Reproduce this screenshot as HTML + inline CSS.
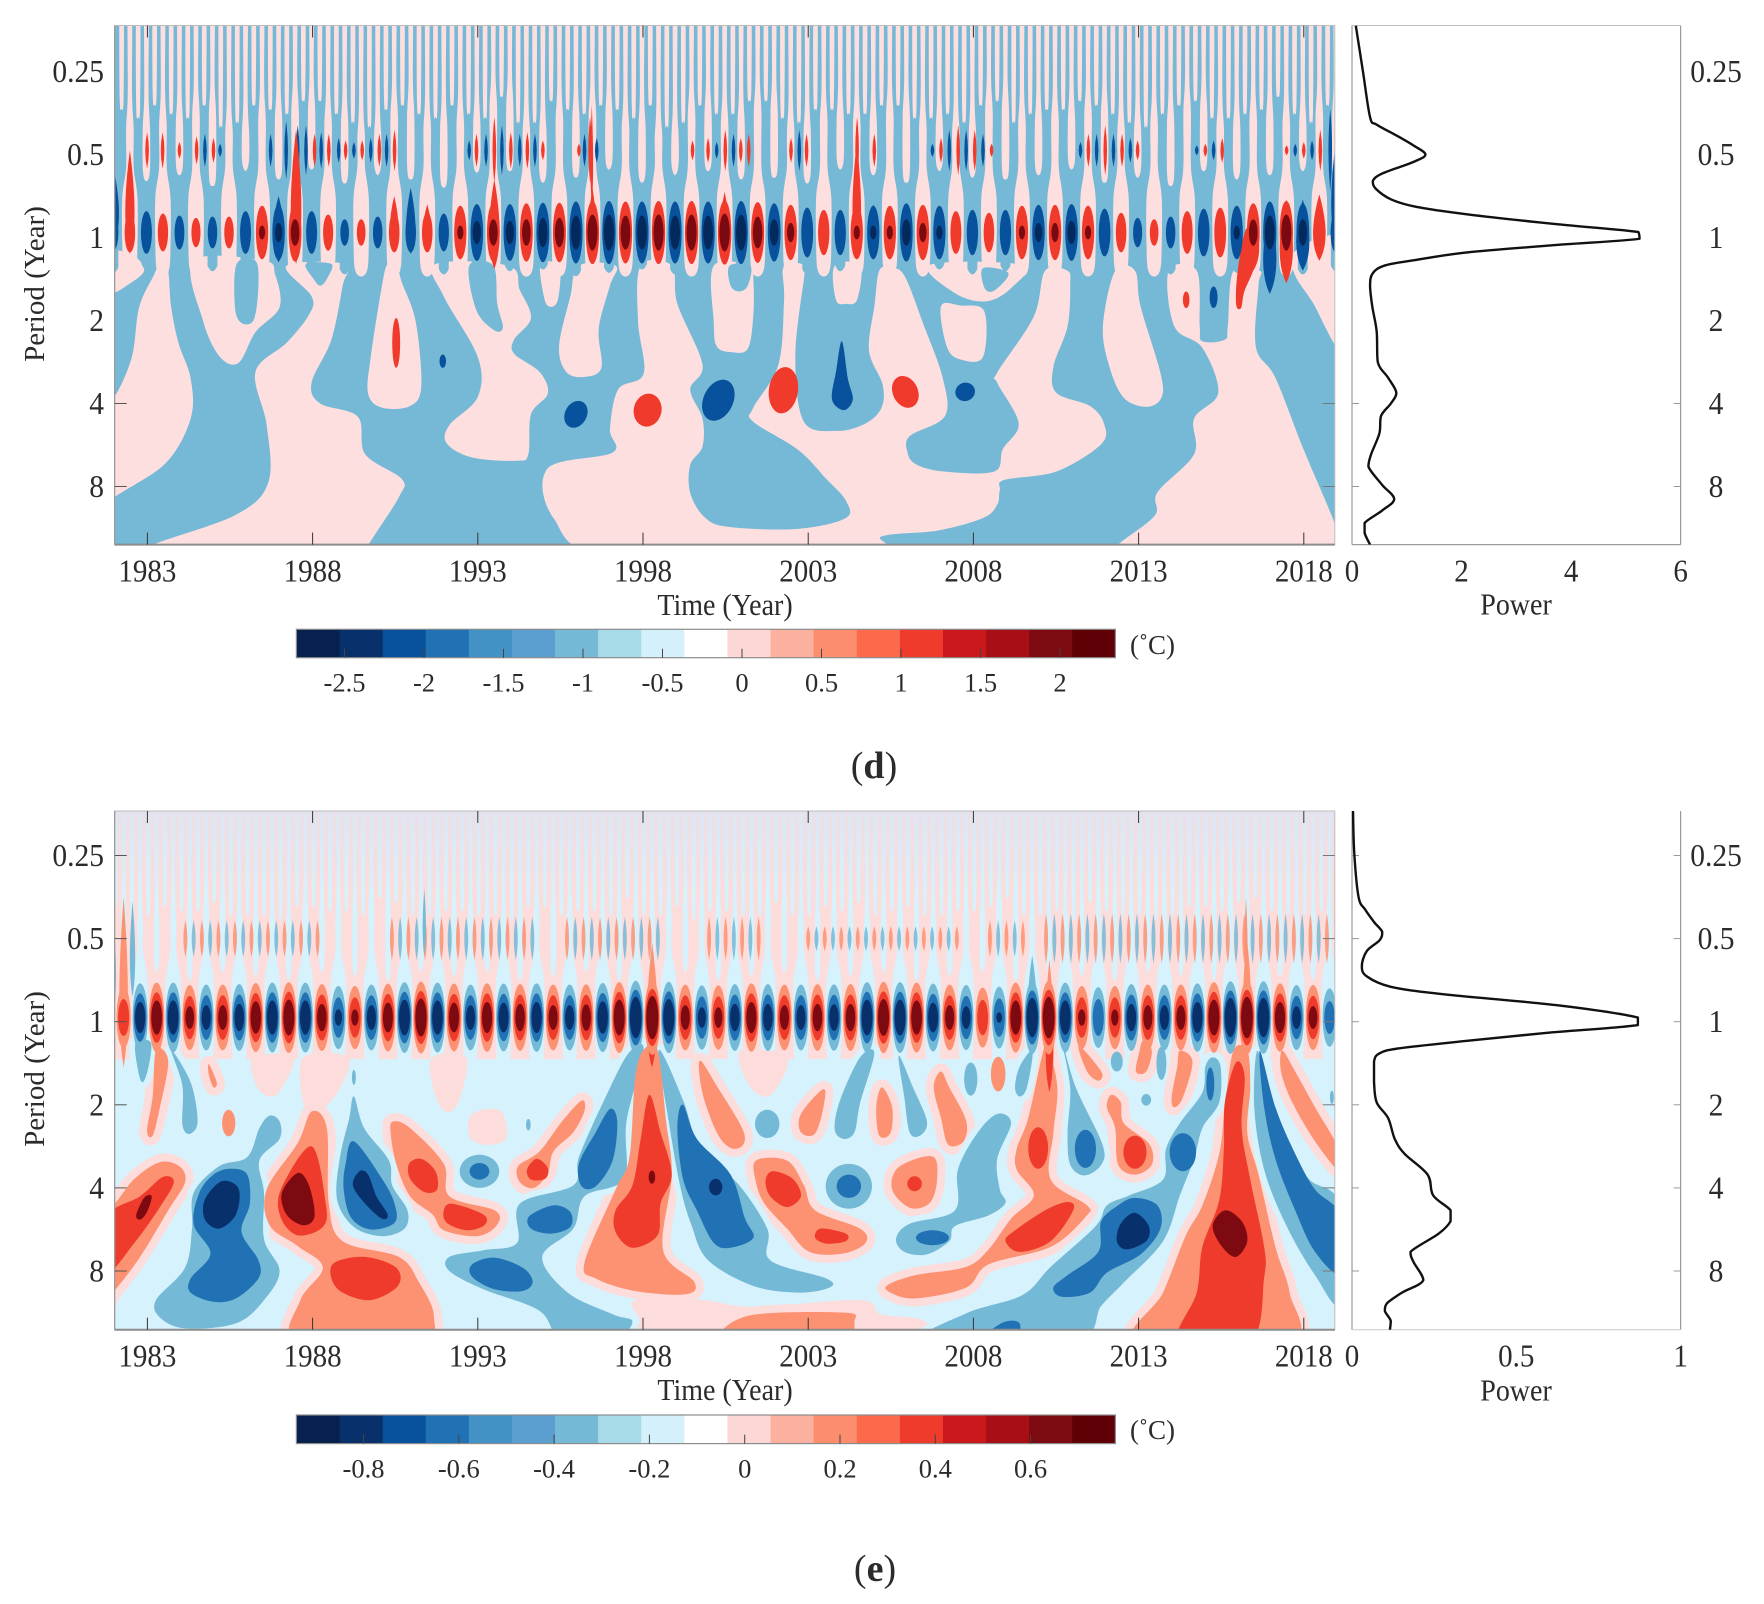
<!DOCTYPE html>
<html lang="en">
<head>
<meta charset="utf-8">
<title>Wavelet power spectra (d) and (e)</title>
<style>
html,body{margin:0;padding:0;background:#fff;}
svg{display:block;}
text{font-family:"Liberation Serif",serif;fill:#2b2b2b;}
</style>
</head>
<body>
<svg id="fig" xmlns="http://www.w3.org/2000/svg" width="1764" height="1604" viewBox="0 0 1764 1604">
  <defs>
    <clipPath id="clipD"><rect x="114.7" y="25.5" width="1220.1" height="519.1"/></clipPath>
    <clipPath id="clipE"><rect x="114.7" y="811" width="1220.1" height="518.7"/></clipPath>
    <clipPath id="clipSideD"><rect x="1352" y="25.5" width="328.6" height="519.1"/></clipPath>
    <clipPath id="clipSideE"><rect x="1352" y="811" width="328.6" height="518.7"/></clipPath>
    <linearGradient id="hazeFade" x1="0" y1="0" x2="0" y2="1">
      <stop offset="0" stop-color="#e2e2ee" stop-opacity="0.75"/>
      <stop offset="1" stop-color="#e2e2ee" stop-opacity="0"/>
    </linearGradient>
  </defs>
  <g id="panelD"></g>
  <g id="panelE"></g>
  <text transform="translate(44,284) rotate(-90)" font-size="29" text-anchor="middle">Period (Year)</text>
  <text transform="translate(44,1069) rotate(-90)" font-size="29" text-anchor="middle">Period (Year)</text>
  <text transform="translate(725,615) scale(1,1.08)" font-size="28" text-anchor="middle">Time (Year)</text>
  <text transform="translate(725,1400) scale(1,1.08)" font-size="28" text-anchor="middle">Time (Year)</text>
  <text transform="translate(1516,614.5) scale(1,1.08)" font-size="28" text-anchor="middle">Power</text>
  <text transform="translate(1516,1400.5) scale(1,1.08)" font-size="28" text-anchor="middle">Power</text>
  <text x="1130" y="654" font-size="27">(˚C)</text>
  <text x="1130" y="1439" font-size="27">(˚C)</text>
  <text x="874" y="778" font-size="38" text-anchor="middle">(<tspan font-weight="bold">d</tspan>)</text>
  <text x="875" y="1581" font-size="38" text-anchor="middle">(<tspan font-weight="bold">e</tspan>)</text>
</svg>
<script>
/* ---------- shared ticks and colour scale ---------- */
const yearTicks = [1983,1988,1993,1998,2003,2008,2013,2018];
const periodTicks = [0.25,0.5,1,2,4,8];
const visibleTicksD = [4,8];
const colorSteps = ['#07214f','#08306b','#08519c','#2171b5','#4292c6','#5b9fd0','#74b9d6','#a8dbe8','#d4f1fb','#ffffff','#fdd6d6','#fcb0a0','#fc8d6d','#fb6a4a','#ef3b2c','#cb181d','#a50f15','#7d0a10','#5f0006'];
const colorTicksD = [-2.5,-2,-1.5,-1,-0.5,0,0.5,1,1.5,2];
const colorTicksE = [-0.8,-0.6,-0.4,-0.2,0,0.2,0.4,0.6];
const powerTicksD = [0,2,4,6];
const powerTicksE = [0,0.5,1];

/* ---------- panel d: annual band amplitude (degC), every half year from 1981.97 ---------- */
const annualD = [-1.4,1.5,-1.6,1.45,-1.35,1.25,-1.3,1.3,-1.6,2.1,-2.2,2.4,-1.6,1.4,-1.2,1.2,-1.3,1.5,-1.5,1.5,-1.45,2.1,-2.3,2.4,-2.3,2.4,-2.5,2.5,-2.7,2.8,-2.8,2.7,-2.7,2.8,-2.7,2.8,-2.7,2.9,-2.8,2.6,-2.4,2.2,-1.9,1.7,-1.7,2.1,-2.1,2.1,-2.4,2.2,-2.1,1.6,-1.7,1.5,-1.7,2.1,-2.2,2.2,-2.3,2.1,-1.8,1.5,-1.25,1.2,-1.3,1.6,-1.8,1.9,-2.1,2.4,-2.7,2.8,-2.4,1.7,-1.5];
/* panel d: finger tips (log2 period) per year 1982..2018 */
const rootTopD = [-0.68,-0.75,-0.62,-0.8,-0.7,-0.82,-0.65,-0.75,-0.7,-0.6,-0.78,-0.8,-0.66,-0.72,-0.82,-0.66,-0.75,-0.8,-0.7,-0.72,-0.65,-0.82,-0.75,-0.66,-0.8,-0.72,-0.7,-0.75,-0.82,-0.66,-0.72,-0.62,-0.8,-0.7,-0.75,-0.8,-0.72];
const forkTopD = [-1.45,-1.5,-1.6,-1.4,-1.55,-1.65,-1.5,-1.35,-1.6,-1.45,-1.5,-1.7,-1.4,-1.55,-1.6,-1.45,-1.35,-1.6,-1.5,-1.65,-1.4,-1.55,-1.5,-1.6,-1.45,-1.4,-1.65,-1.5,-1.55,-1.6,-1.4,-1.5,-1.65,-1.45,-1.55,-1.5,-1.6];
const blueTipD = [0.42,0.38,0.44,0.4,0.46,0.38,0.42,0.44,0.4,0.38,0.44,0.42,0.4,0.38,0.46,0.42,0.38,0.44,0.4,0.42,0.38,0.44,0.4,0.46,0.42,0.38,0.44,0.4,0.42,0.38,0.46,0.4,0.44,0.38,0.42,0.4,0.44,0.4];
/* panel d: semi-annual streaks: year, signed half-height in octaves */
const semiYearsD = [1982.99,1983.46,1983.97,1984.49,1984.74,1985,1985.2,1986.73,1987.2,1987.55,1987.8,1988.06,1988.26,1988.49,1988.79,1989,1989.25,1989.5,1989.76,1990.02,1990.24,1990.48,1992.74,1992.96,1993.25,1993.5,1993.73,1994,1994.27,1994.5,1994.73,1994.97,1996.06,1996.23,1996.4,1996.6,1999.5,1999.97,2000.23,2000.49,2000.74,2000.96,2001.2,2002.48,2002.73,2002.95,2004.48,2005,2006.76,2007.02,2007.27,2007.54,2007.78,2008.04,2008.29,2008.55,2011.24,2011.48,2011.73,2011.99,2012.24,2012.5,2012.75,2012.97,2014.76,2015.02,2015.27,2015.53,2017.48,2017.74,2018,2018.25,2018.5,2018.8];
const semiHeightsD = [0.22,0.22,0.1,0.17,-0.2,0.15,-0.08,-0.2,-0.35,-0.3,-0.3,0.2,-0.22,0.2,-0.15,0.12,-0.1,0.12,-0.15,0.2,-0.2,0.25,-0.12,0.2,-0.2,0.4,-0.3,0.22,-0.2,0.22,-0.2,0.12,0.08,-0.2,0.4,-0.15,0.12,0.15,-0.1,0.25,-0.2,0.15,0.2,0.15,-0.25,0.2,0.4,0.2,-0.08,0.15,-0.25,0.3,-0.25,0.25,-0.2,0.08,-0.1,0.2,-0.2,0.3,-0.2,0.2,-0.15,0.12,-0.06,0.08,-0.12,0.15,0.06,-0.08,0.1,-0.12,0.25,-0.5];
/* panel d: tails stretched out of the annual band: year, top, bottom, half width, level */
const tailsD = [
 [1982.47,-1.05,0.2,0.14,1],[1981.97,-0.85,0.1,0.17,-1],[1987.5,-1.3,0.32,0.16,1],[1986.97,-0.5,0.3,0.18,-1],
 [1990.47,-0.5,0.15,0.13,1],[1990.97,-0.6,0.2,0.14,-1],[1991.47,-0.4,0.15,0.13,1],[1993.5,-0.7,0.38,0.16,1],
 [1996.47,-0.6,0.3,0.12,1],[1996.45,-1.6,-0.4,0.04,1],[2000.47,-0.55,0.3,0.15,1],[2004.47,-1.15,0.25,0.13,1],
 [2004.97,-0.4,0.2,0.14,-1],[2016.97,-0.34,0.68,0.2,-1],[2017.47,-0.46,0.55,0.2,1],[2017.97,-0.46,0.4,0.2,-1],
 [2018.47,-0.52,0.28,0.19,1],[2018.97,-1.15,0.1,0.14,-1],[2016.47,-0.28,0.4,0.18,1]
];
/* panel d: pink regions traced as [year, log2 period] */
const pinkRegionsD = [
 [[1982,1.92],[1982.53,1.44],[1982.75,0.84],[1983.2,0.45],[1983.46,0.24],[1983.63,0.41],[1983.72,0.84],[1983.94,1.27],[1984.31,1.7],[1984.31,2.18],[1983.55,2.72],[1982,3.13],[1981.7,3.3],[1981.7,1.9]],
 [[1981.7,0.2],[1982.5,0.2],[1982.9,0.4],[1982.3,0.6],[1982,0.67],[1981.7,0.75]],
 [[1984.4,0.28],[1984.69,1.01],[1985.2,1.44],[1985.76,1.51],[1986.27,1.14],[1987,0.84],[1986.87,0.45],[1986.53,0.28]],
 [[1987.21,0.34],[1987.97,0.71],[1987.89,0.93],[1987.21,1.27],[1986.27,1.62],[1986.61,2.26],[1986.66,2.95],[1985.68,3.34],[1983.12,3.71],[1982.6,3.9],[1989.5,3.9],[1989.68,3.71],[1990.61,3.13],[1990.7,2.91],[1989.59,2.61],[1989.37,2.16],[1988.23,2],[1987.97,1.75],[1988.57,1.23],[1988.91,0.58],[1989,0.32]],
 [[1990.27,0.32],[1990.1,0.58],[1989.76,1.44],[1989.68,1.88],[1990.1,2.05],[1990.95,2.03],[1991.29,1.79],[1991.12,1.01],[1990.7,0.54],[1990.53,0.32]],
 [[1991.72,0.32],[1991.97,0.71],[1993,1.44],[1993,1.92],[1992.14,2.26],[1992.06,2.48],[1992.83,2.65],[1994.19,2.69],[1994.53,2.61],[1994.61,2.13],[1995.12,1.88],[1994.87,1.62],[1994.1,1.4],[1994.1,1.23],[1994.61,0.97],[1994.27,0.63],[1993.93,0.34]],
 [[1994.9,0.32],[1995,0.71],[1995.15,0.83],[1995.4,0.78],[1995.5,0.49],[1995.42,0.32]],
 [[1996.06,0.34],[1995.8,0.71],[1995.46,1.31],[1995.68,1.62],[1996.23,1.68],[1996.74,1.57],[1996.66,1.1],[1997,0.58],[1997.17,0.34]],
 [[1997.93,0.34],[1997.85,1.01],[1998.02,1.64],[1997.25,1.83],[1997,2.31],[1997.08,2.59],[1995.12,2.78],[1995.29,3.38],[1997.1,3.85],[2004.83,3.8],[2005.23,3.6],[2006.93,3.53],[2008.29,3.38],[2008.72,3.22],[2008.8,3.04],[2008.94,2.92],[2010.51,2.82],[2011.87,2.49],[2011.95,2.24],[2011.53,2.03],[2010.51,1.87],[2010.42,1.56],[2010.85,1.07],[2010.93,0.58],[2010.85,0.4],[2010.17,0.4],[2009.83,0.95],[2008.72,1.63],[2008.72,1.75],[2009.37,2.24],[2008.89,2.55],[2008.63,2.82],[2007.1,2.82],[2006.25,2.73],[2006,2.58],[2006.08,2.39],[2007.14,2.15],[2007.07,1.69],[2006.51,1.07],[2005.91,0.46],[2005.49,0.37],[2005.15,0.4],[2005.01,0.81],[2004.84,1.36],[2005.25,1.77],[2005.22,2.05],[2004.74,2.24],[2003.89,2.33],[2002.87,2.22],[2002.61,1.44],[2002.87,0.5],[2002.95,0.34],[2002.27,0.34],[2002.27,0.75],[2002.1,1.53],[2001.34,2.05],[2001.34,2.22],[2002.7,2.56],[2003.55,2.91],[2004.14,3.17],[2004.14,3.38],[2002.7,3.51],[2000.65,3.49],[1999.89,3.38],[1999.43,3.08],[1999.43,2.74],[1999.8,2.52],[1999.8,2.18],[1999.43,1.83],[1999.8,1.53],[1999.04,0.8],[1998.87,0.34]],
 [[2000.14,0.34],[2000.14,1.01],[2000.23,1.31],[2000.65,1.38],[2001.17,1.34],[2001.34,0.93],[2001.34,0.5],[2001.25,0.34]],
 [[2003.8,0.34],[2003.84,0.75],[2004.14,0.8],[2004.48,0.75],[2004.57,0.34]],
 [[2007.02,0.83],[2007.61,0.82],[2008.33,0.89],[2008.29,1.44],[2007.61,1.47],[2007.2,1.32]],
 [[2006.68,0.33],[2007.44,0.67],[2008.38,0.77],[2009.14,0.61],[2009.48,0.33]],
 [[2012.29,0.4],[2011.92,1.07],[2012.12,1.56],[2012.55,1.93],[2013.23,2.04],[2013.69,1.93],[2013.66,1.63],[2013.06,0.83],[2012.89,0.4]],
 [[2013.91,0.4],[2014.08,1.07],[2014.93,1.33],[2015.41,1.87],[2014.68,2.18],[2014.68,2.61],[2013.57,3.07],[2013.49,3.35],[2012.38,3.7],[2012.21,3.85],[2019.2,3.85],[2018.93,3.44],[2017.99,2.55],[2017.14,1.69],[2016.55,1.32],[2016.63,0.58],[2016.67,0.4],[2015.87,0.4],[2015.7,1.07],[2015.61,1.23],[2014.93,1.25],[2014.85,1.07],[2014.76,0.4]],
 [[2017.65,0.21],[2017.74,0.46],[2018.25,0.77],[2019.2,1.36],[2019.2,0.09],[2018.34,0.03]]
];
/* panel d: blue fingers lying on top of the pink regions */
const blueFingersD = [
 [[1985.7,0.32],[1985.65,0.84],[1985.85,1.03],[1986.22,0.99],[1986.36,0.58],[1986.27,0.28]],
 [[1987.8,0.32],[1988.03,0.5],[1988.23,0.58],[1988.43,0.5],[1988.57,0.32]],
 [[1992.74,0.34],[1992.96,0.88],[1993.51,1.12],[1993.76,1.08],[1993.59,0.8],[1993.47,0.34]],
 [[2000.62,0.34],[2000.65,0.58],[2000.91,0.65],[2001.17,0.58],[2001.25,0.34]],
 [[2008.29,0.37],[2008.34,0.61],[2008.63,0.64],[2009.06,0.43]]
];
const redShapesD = [[[2016.55,0],[2016.5,0.35],[2016.2,0.65],[2016.1,0.85],[2015.95,0.8],[2016,0.4],[2016.25,-0.1]]];
const blueDropD = [[[2004.02,1.25],[2004.2,1.7],[2004.35,1.95],[2004.08,2.08],[2003.72,1.95],[2003.85,1.6]]];
/* panel d: isolated spots: level, year, log2 period, half width, half height, tilt degrees */
const ovalsD = [
 [1,1990.53,1.27,0.12,0.3,0],[-1,1991.94,1.49,0.1,0.08,0],[-1,1995.97,2.13,0.33,0.17,28],[1,1998.14,2.08,0.42,0.2,12],
 [-1,2000.28,1.96,0.45,0.26,25],[1,2002.25,1.84,0.44,0.28,8],[1,2005.94,1.86,0.38,0.2,-25],[-1,2007.75,1.86,0.3,0.11,-20],
 [1,2014.44,0.75,0.1,0.1,0],[-1,2015.27,0.72,0.12,0.13,0]
];
/* panel d: global power spectrum */
const spectrumOctD = [-2.55,-2,-1.45,-1.36,-1.23,-1.11,-1,-0.91,-0.77,-0.68,-0.59,-0.46,-0.37,-0.28,-0.16,-0.065,0.015,0.09,0.18,0.27,0.335,0.43,0.58,0.83,1.13,1.5,1.69,1.87,2,2.15,2.36,2.61,2.76,2.98,3.15,3.29,3.44,3.56,3.7];
const spectrumPowerD = [0.07,0.2,0.33,0.45,0.81,1.12,1.34,1.12,0.55,0.38,0.43,0.71,1.17,2.1,3.74,5.23,5.25,3.74,2.1,1.17,0.61,0.38,0.33,0.37,0.45,0.47,0.66,0.81,0.71,0.53,0.5,0.35,0.3,0.55,0.77,0.55,0.23,0.23,0.33];

/* ---------- panel e ---------- */
const annualE = [-0.5,0.6,-0.8,0.85,-0.85,0.7,-0.72,0.72,-0.75,0.82,-0.85,0.88,-0.85,0.75,-0.65,0.65,-0.72,0.78,-0.88,0.92,-0.85,0.78,-0.72,0.8,-0.78,0.75,-0.8,0.72,-0.72,0.74,-0.82,0.88,-1,1.05,-0.9,0.72,-0.68,0.68,-0.75,0.8,-0.75,0.72,-0.72,0.75,-0.74,0.75,-0.88,0.9,-0.88,0.85,-0.78,0.72,-0.7,0.58,-0.62,0.85,-0.95,1,-0.85,0.65,-0.6,0.65,-0.75,0.72,-0.72,0.72,-0.8,0.88,-0.95,1,-0.95,0.8,-0.7,0.7,-0.55];
const rootTopE = [-0.55,-0.6,-0.5,-0.6,-0.55,-0.5,-0.6,-0.55,-0.5,-0.6,-0.55,-0.6,-0.5,-0.55,-0.6,-0.5,-0.55,-0.6,-0.5,-0.55,-0.6,-0.5,-0.55,-0.6,-0.5,-0.55,-0.6,-0.5,-0.6,-0.55,-0.5,-0.6,-0.55,-0.5,-0.6,-0.55,-0.5,-0.55];
const forkTopE = [-1.4,-1.3,-1.35,-1.45,-1.3,-1.25,-1.4,-1.35,-1.5,-1.3,-1.35,-1.3,-1.25,-1.4,-1.35,-1.3,-1.3,-1.4,-1.35,-1.3,-1.45,-1.3,-1.35,-1.3,-1.4,-1.3,-1.35,-1.5,-1.3,-1.25,-1.35,-1.3,-1.3,-1.4,-1.45,-1.35,-1.3,-1.35];
const burstStartE = [1984.15,1990.4,1995.7,2000,2003,2008.5,2010.2];
const burstEndE = [1988.2,1994.8,1998.5,2001.5,2007.5,2009.5,2018.9];
const burstHeightE = [0.22,0.26,0.26,0.26,0.15,0.22,0.3];
const tailsE = [
 [1982.28,-1.5,0.55,0.13,1],[1981.9,-1.55,0.1,0.15,-1],[1982.55,-1.45,-0.3,0.08,-1],[1991.38,-1.6,-0.8,0.05,-1],
 [1998.28,-0.95,0.7,0.17,1],[2010.3,-0.75,0.9,0.14,1],[2010.3,-0.3,0.85,0.11,2],[2016.28,-1,0.3,0.12,1],
 [2016.25,-1.5,-0.4,0.05,1],[2009.78,-0.8,0.3,0.14,-1],[1998.27,-0.4,0.55,0.12,2]
];
const pinkPatchesE = [
 [[1986.2,0.43],[1987.4,0.43],[1987.05,0.81],[1986.7,0.9],[1986.3,0.77]],
 [[1991.63,0.43],[1992.65,0.43],[1992.4,0.98],[1991.97,1.07],[1991.63,0.77]],
 [[1992.83,1.11],[1993.68,1.07],[1993.85,1.41],[1993.17,1.48],[1992.74,1.37]],
 [[1987.72,0.43],[1989.08,0.43],[1988.74,0.86],[1988.06,1.11],[1987.72,0.98]],
 [[2001,0.34],[2002.36,0.43],[2001.93,0.86],[2001.42,0.86],[2001,0.6]],
 [[1997.76,3.35],[1999.8,3.35],[2001.34,3.43],[2004.57,3.35],[2005.2,3.52],[2006.5,3.6],[2006.5,3.9],[1997.5,3.9],[1997.9,3.62]]
];
const salmonE = [
 [[1981.7,2.19],[1982,2.19],[1982.61,1.89],[1983.38,1.69],[1983.97,1.74],[1984.14,1.93],[1983.63,2.27],[1982.78,2.83],[1982,3.24],[1981.7,3.35]],
 [[1987.97,1.08],[1988.43,1.28],[1988.49,2.19],[1988.91,2.64],[1990.61,2.83],[1991.21,3.13],[1991.67,3.54],[1991.21,3.85],[1987.55,3.85],[1987.63,3.35],[1988.31,2.96],[1987.55,2.7],[1986.7,2.45],[1986.61,2.02],[1987.55,1.46]],
 [[1990.44,1.2],[1990.95,1.28],[1991.97,1.71],[1992.14,2.1],[1993.51,2.27],[1993.59,2.44],[1993,2.58],[1991.97,2.51],[1991.63,2.32],[1990.95,2.1],[1990.53,1.71],[1990.36,1.33]],
 [[1996.14,0.95],[1996.23,1.07],[1995.89,1.33],[1995.29,1.56],[1995.12,1.82],[1994.7,2],[1994.27,1.93],[1994.22,1.74],[1994.87,1.56],[1995.55,1.2]],
 [[1998.44,0.34],[1998.7,1.2],[1998.87,1.84],[1998.61,2.75],[1999.55,3.13],[1999.29,3.28],[1997.76,3.24],[1996.57,3.09],[1996.23,2.9],[1997.17,2.02],[1997.59,1.63],[1997.76,0.68],[1998.02,0.34]],
 [[1999.72,0.47],[2000.23,0.77],[2001,1.28],[2001.03,1.48],[2000.65,1.52],[2000.23,1.33],[1999.8,0.86]],
 [[2003.46,0.81],[2003.46,1.03],[2003.2,1.35],[2002.78,1.33],[2002.78,1.11]],
 [[2001.42,1.67],[2002.36,1.67],[2002.87,1.97],[2003.21,2.27],[2004.57,2.49],[2004.74,2.66],[2004.06,2.79],[2003.04,2.77],[2002.36,2.49],[2001.68,2.19],[2001.42,1.93]],
 [[2000.49,3.85],[2001.17,3.54],[2004.06,3.5],[2004.4,3.6],[2003.89,3.85]],
 [[1983.26,0.34],[1983.63,0.47],[1983.38,1.03],[1983.16,1.37],[1982.99,1.31],[1983.16,0.9]],
 [[1984.86,0.51],[1985.1,0.73],[1985,0.79],[1984.86,0.64]],
 [[2005.23,0.79],[2005.54,1.03],[2005.49,1.34],[2005.15,1.37],[2005.06,1.03]],
 [[2007.02,0.6],[2007.27,0.79],[2007.78,1.19],[2007.7,1.44],[2007.24,1.48],[2007.02,1.16],[2006.8,0.79]],
 [[2009.31,1.53],[2009.66,1.16],[2010.08,0.41],[2010.25,0.29],[2010.54,0.79],[2010.42,1.34],[2010.34,1.9],[2011.44,2.21],[2011.39,2.35],[2010.34,2.71],[2008.46,2.92],[2007.78,3.2],[2006.25,3.33],[2005.49,3.26],[2005.4,3.17],[2006.25,3.05],[2007.78,2.95],[2008.46,2.74],[2009.14,2.37],[2009.83,2.09],[2009.31,1.78]],
 [[2005.74,1.75],[2006.76,1.62],[2006.9,1.9],[2006.68,2.18],[2006.08,2.24],[2005.54,2.02]],
 [[2011.19,0.29],[2011.87,0.6],[2011.78,0.71],[2011.44,0.6]],
 [[2012.17,0.88],[2012.46,0.97],[2012.55,1.22],[2013.32,1.47],[2013.4,1.72],[2012.89,1.84],[2012.38,1.72],[2012.29,1.28],[2012.04,1.03]],
 [[2013.14,0.23],[2013.4,0.35],[2013.23,0.6],[2012.92,0.6],[2013.03,0.35]],
 [[2014.25,0.35],[2014.63,0.48],[2014.34,0.91],[2014.08,1.03],[2014,0.91],[2014.17,0.54]],
 [[2015.87,0.35],[2016.29,0.35],[2016.38,0.79],[2016.29,1.34],[2016.63,1.84],[2017.14,2.71],[2017.57,3.26],[2017.57,3.85],[2012.97,3.85],[2013.74,3.26],[2014.42,2.58],[2014.93,2.21],[2015.44,1.59],[2015.61,1.03]],
 [[2017.35,0.35],[2017.74,0.6],[2018.34,1.03],[2019.1,1.56],[2019.1,1.81],[2018.34,1.44],[2017.65,0.97],[2017.31,0.6]]
];
const redE = [
 [[1981.7,2.37],[1982.78,2.1],[1983.46,1.87],[1983.8,1.93],[1983.38,2.23],[1982.61,2.66],[1981.7,3.05]],
 [[1987.97,1.5],[1988.4,2.19],[1988.31,2.47],[1987.55,2.57],[1987.04,2.36],[1987.04,2.02]],
 [[1989.59,2.83],[1990.53,2.96],[1990.58,3.18],[1989.76,3.35],[1988.91,3.26],[1988.57,3.09],[1988.66,2.9]],
 [[1991.29,1.65],[1991.72,1.8],[1991.77,2.02],[1991.38,2.05],[1990.95,1.89],[1990.92,1.71]],
 [[1992.23,2.19],[1993.17,2.32],[1993.2,2.45],[1992.66,2.51],[1992.06,2.42],[1991.97,2.27]],
 [[1994.78,1.65],[1995.12,1.76],[1995.04,1.89],[1994.61,1.9],[1994.49,1.78]],
 [[1998.19,0.88],[1998.53,1.33],[1998.87,1.84],[1998.53,2.19],[1998.44,2.57],[1997.68,2.72],[1997.17,2.53],[1997.17,2.27],[1997.68,1.97],[1997.93,1.41]],
 [[2001.93,1.8],[2002.53,1.89],[2002.78,2.1],[2002.36,2.23],[2001.85,2.1],[2001.71,1.91]],
 [[2003.38,2.49],[2004.14,2.55],[2004.14,2.64],[2003.55,2.67],[2003.21,2.6]],
 [[2010.85,2.17],[2011.02,2.27],[2010.34,2.64],[2009.4,2.77],[2008.97,2.64],[2009.23,2.52],[2010.17,2.27]],
 [[2015.95,0.49],[2016.21,0.66],[2016.12,1.28],[2016.38,1.9],[2016.8,2.71],[2016.8,3.08],[2016.38,3.85],[2014.22,3.85],[2014.76,3.26],[2014.93,2.71],[2015.44,2.15],[2015.58,1.53],[2015.61,0.97]]
];
const darkE = [
 [[1982.66,2.33],[1982.9,2.12],[1983.13,2.1],[1983,2.28],[1982.8,2.38]],
 [[1987.55,1.82],[1987.89,1.97],[1988.06,2.34],[1987.72,2.45],[1987.21,2.32],[1987.07,2.06]],
 [[2015.61,2.27],[2016.12,2.4],[2016.29,2.64],[2015.95,2.83],[2015.53,2.71],[2015.24,2.46]]
];
const blueE = [
 [[1986.7,1.13],[1987,1.2],[1987,1.41],[1986.39,1.67],[1986.53,2.06],[1986.53,2.62],[1987,3],[1986.53,3.35],[1985.68,3.63],[1984.14,3.69],[1983.38,3.56],[1983.26,3.35],[1984.14,2.96],[1984.35,2.49],[1984.4,2.06],[1985.17,1.74],[1986.02,1.63],[1986.39,1.28]],
 [[1989.25,0.9],[1989.56,1.28],[1990.31,1.67],[1990.41,1.97],[1990.87,2.27],[1990.78,2.49],[1990.1,2.58],[1989.25,2.47],[1988.74,2.14],[1988.83,1.63],[1989.11,1.16]],
 [[1998.02,0.34],[1997.5,1.2],[1997.42,1.89],[1996.23,2.1],[1995.89,2.49],[1994.95,2.83],[1995.72,3.26],[1997.08,3.52],[1997.68,3.61],[1997.08,3.85],[1995.55,3.85],[1994.87,3.48],[1993.17,3.22],[1992.14,3],[1992.14,2.83],[1993.17,2.75],[1994.19,2.66],[1994.27,2.19],[1995.89,1.97],[1996.06,1.63],[1996.83,0.94],[1997.56,0.38]],
 [[1998.48,0.34],[1999.21,0.94],[1999.8,1.63],[2000.83,1.93],[2001.76,2.49],[2001.85,2.87],[2003.55,3.09],[2003.64,3.2],[2002.7,3.26],[2001.34,3.18],[1999.97,2.87],[1999.46,2.44],[1999.12,1.97],[1998.78,1.2]],
 [[1982.65,0.25],[1982.7,0.55],[1982.85,0.73],[1983.03,0.55],[1983.1,0.25]],
 [[1983.72,0.34],[1984.31,0.73],[1984.52,1.2],[1984.28,1.35],[1984.06,1.24],[1984.06,0.77]],
 [[2004.57,0.43],[2003.97,0.94],[2003.8,1.29],[2004.06,1.41],[2004.4,1.33],[2004.57,0.98],[2005,0.38]],
 [[2005.74,0.41],[2006.17,0.79],[2006.59,1.19],[2006.42,1.36],[2006.08,1.34],[2005.91,0.91]],
 [[2009.79,0.35],[2009.62,0.79],[2009.4,0.9],[2009.26,0.79],[2009.4,0.54]],
 [[2008.72,1.11],[2009.14,1.22],[2008.72,1.65],[2008.8,2.02],[2008.97,2.18],[2008.46,2.33],[2007.44,2.46],[2007.27,2.64],[2006.59,2.8],[2005.91,2.77],[2005.66,2.61],[2006.08,2.43],[2007.44,2.27],[2007.53,1.78],[2008.12,1.34]],
 [[2010.68,0.23],[2011.1,0.79],[2011.9,1.47],[2011.87,1.72],[2011.36,1.85],[2010.93,1.72],[2010.85,1.34],[2010.93,0.79]],
 [[2015.24,0.43],[2015.48,0.54],[2015.44,0.97],[2014.93,1.28],[2014.68,1.65],[2014.25,2.09],[2013.74,2.64],[2012.55,3.14],[2011.87,3.42],[2011.02,3.85],[2006.51,3.85],[2007.78,3.51],[2009.48,3.29],[2010.34,2.95],[2011.7,2.46],[2012.04,2.21],[2012.72,2.09],[2013.74,1.9],[2013.83,1.53],[2014.25,1.22],[2014.93,0.85],[2015.02,0.54]],
 [[2016.6,0.35],[2016.97,1.03],[2017.48,1.53],[2018.17,1.9],[2019.1,2.21],[2019.1,3.39],[2018.34,3.05],[2017.48,2.46],[2016.8,1.78],[2016.5,1.03]]
];
const midE = [
 [[1985.51,1.77],[1986.02,1.84],[1986.1,2.19],[1985.85,2.53],[1986.36,2.87],[1986.36,3.09],[1985.68,3.33],[1985,3.37],[1984.31,3.26],[1984.31,3.09],[1984.91,2.79],[1984.4,2.44],[1984.57,2.06],[1985,1.84]],
 [[1989.25,1.44],[1990.1,1.89],[1990.48,2.19],[1990.48,2.42],[1989.76,2.5],[1989.17,2.36],[1988.94,2.02],[1989,1.71]],
 [[1997,1.05],[1997.22,1.2],[1997.08,1.67],[1996.57,1.98],[1996.14,1.98],[1996.06,1.71],[1996.57,1.33]],
 [[1995.29,2.21],[1995.8,2.29],[1995.8,2.47],[1995.21,2.55],[1994.61,2.49],[1994.56,2.34]],
 [[1993.51,2.84],[1994.36,2.96],[1994.66,3.13],[1994.36,3.24],[1993.51,3.22],[1992.83,3.07],[1992.83,2.92]],
 [[1999.21,1],[1999.63,1.41],[2000.65,1.84],[2001.08,2.36],[2001.34,2.6],[2000.65,2.72],[2000.14,2.66],[1999.63,2.27],[1999.21,1.89],[1999.04,1.28]],
 [[2012.89,2.12],[2013.57,2.21],[2013.66,2.49],[2013.06,2.8],[2012.04,3.02],[2011.53,3.26],[2010.68,3.31],[2010.42,3.2],[2010.85,3.05],[2011.78,2.77],[2011.87,2.4],[2012.38,2.21]],
 [[2008.21,3.85],[2008.89,3.62],[2009.4,3.63],[2009.23,3.85]],
 [[2016.67,0.35],[2017.14,1.03],[2017.74,1.59],[2018.34,2.02],[2019.1,2.33],[2019.1,3.02],[2018.34,2.77],[2017.74,2.27],[2017.14,1.65],[2016.8,1.03]]
];
const navyE = [
 [[1985.25,1.92],[1985.76,2.01],[1985.68,2.32],[1985.17,2.49],[1984.74,2.38],[1984.74,2.14]],
 [[1989.42,1.8],[1989.68,1.84],[1989.93,2.1],[1990.27,2.32],[1990.1,2.37],[1989.59,2.19],[1989.22,1.97]],
 [[2012.89,2.3],[2013.31,2.46],[2013.23,2.64],[2012.63,2.74],[2012.34,2.64],[2012.46,2.43]]
];
/* panel e: spots: level (+/-1..3), year, log2 period, half width, half height */
const ovalsE = [
 [-1,1993.05,1.8,0.6,0.2],[-2,1993.05,1.8,0.3,0.1],[1,1985.46,1.22,0.2,0.16],[-1,1989.25,0.67,0.06,0.09],[-1,1994.53,1.24,0.07,0.07],
 [3,1998.27,1.87,0.1,0.08],[-3,2000.2,1.99,0.2,0.1],[-1,2001.76,1.23,0.37,0.17],[-1,2004.23,1.98,0.7,0.27],[-2,2004.23,1.98,0.37,0.14],
 [2,2006.22,1.95,0.22,0.09],[-2,2006.76,2.6,0.5,0.09],[-1,2007.92,0.69,0.2,0.2],[1,2008.75,0.63,0.22,0.21],[2,2009.96,1.52,0.3,0.25],
 [-2,2011.39,1.53,0.32,0.23],[-1,2012.34,0.48,0.18,0.12],[2,2012.89,1.57,0.35,0.2],[-1,2013.23,0.94,0.15,0.07],[-1,2013.69,0.5,0.15,0.2],
 [-2,2014.34,1.57,0.4,0.23],[-2,2015.17,0.75,0.12,0.2],[-1,2018.85,0.91,0.06,0.08]
];
const spectrumOctE = [-2.54,-2.02,-1.5,-1.35,-1.2,-1.08,-0.98,-0.85,-0.67,-0.545,-0.42,-0.33,-0.2,-0.05,0.04,0.135,0.23,0.32,0.38,0.48,0.72,0.97,1.16,1.41,1.59,1.84,2.09,2.27,2.4,2.55,2.77,2.89,3.11,3.26,3.39,3.48,3.6,3.72];
const spectrumPowerE = [0.003,0.007,0.02,0.04,0.067,0.092,0.084,0.045,0.03,0.045,0.118,0.28,0.62,0.87,0.87,0.59,0.35,0.144,0.084,0.067,0.067,0.075,0.11,0.13,0.16,0.23,0.247,0.3,0.3,0.264,0.178,0.187,0.217,0.152,0.106,0.1,0.118,0.115];

/* ---------- axis functions ---------- */
const X_LEFT = 114.7, X_RIGHT = 1334.8, SIDE_LEFT = 1352, SIDE_RIGHT = 1680.6;
function xYear(year){ return 147.4 + 33.04 * (year - 1983); }
function yOctD(o){ return 237.5 + 83 * o; }
function yOctE(o){ return 1021.7 + 83.1 * o; }
function r2(v){ return Math.round(v * 100) / 100; }

/* ---------- svg helpers ---------- */
const NS = 'http://www.w3.org/2000/svg';
function mk(tag, name, parent, attrs){
  const el = document.createElementNS(NS, tag);
  
  
  for (const k in attrs) el.setAttribute(k, attrs[k]);
  parent.appendChild(el);
  return el;
}
function closedPath(pts, yf){
  const p = pts.map(q => [xYear(q[0]), yf(q[1])]);
  const n = p.length;
  let d = 'M' + r2(p[0][0]) + ' ' + r2(p[0][1]);
  for (let i = 0; i < n; i++){
    const a = p[(i - 1 + n) % n], b = p[i], c = p[(i + 1) % n], e = p[(i + 2) % n];
    d += 'C' + r2(b[0] + (c[0] - a[0]) / 6) + ' ' + r2(b[1] + (c[1] - a[1]) / 6) + ' ' +
         r2(c[0] - (e[0] - b[0]) / 6) + ' ' + r2(c[1] - (e[1] - b[1]) / 6) + ' ' + r2(c[0]) + ' ' + r2(c[1]);
  }
  return d + 'Z';
}
function openPath(p){
  let d = 'M' + r2(p[0][0]) + ' ' + r2(p[0][1]);
  for (let i = 0; i < p.length - 1; i++){
    const a = p[Math.max(i - 1, 0)], b = p[i], c = p[i + 1], e = p[Math.min(i + 2, p.length - 1)];
    const lo = Math.min(b[0], c[0]), hi = Math.max(b[0], c[0]);
    const c1 = Math.min(hi, Math.max(lo, b[0] + (c[0] - a[0]) / 6));
    const c2 = Math.min(hi, Math.max(lo, c[0] - (e[0] - b[0]) / 6));
    d += 'C' + r2(c1) + ' ' + r2(b[1] + (c[1] - a[1]) / 6) + ' ' +
         r2(c2) + ' ' + r2(c[1] - (e[1] - b[1]) / 6) + ' ' + r2(c[0]) + ' ' + r2(c[1]);
  }
  return d;
}
/* outline of a vertical finger reaching the top of the plot, in data units */
function mirror(c, left){
  const right = left.slice(0, -1).reverse().map(q => [2 * c - q[0], q[1]]);
  return left.concat(right);
}
function thinFinger(c, w, tip){
  return mirror(c, [[c - w, -2.9], [c - w, tip - 0.14], [c, tip]]);
}
function tippedFinger(c, wTop, wMid, fork, tip){
  return mirror(c, [[c - wTop, -2.9], [c - wTop, fork - 0.3], [c - wMid, fork + 0.15], [c - wMid * 0.95, tip - 0.12], [c, tip]]);
}
function stemFinger(c, wTop, wMid, wBand, fork, bottom){
  return mirror(c, [[c - wTop, -2.9], [c - wTop, fork - 0.3], [c - wMid, fork + 0.15], [c - wMid, -0.85], [c - wBand, -0.48], [c - wBand, 0.1], [c - wBand * 0.8, bottom - 0.08], [c, bottom]]);
}
function stubPath(year, hw, top, bot, yf){
  const c = xYear(year), w = hw * 33.04, yt = yf(top), yb = yf(bot);
  return 'M' + r2(c - w) + ' ' + r2(yt) + 'L' + r2(c + w) + ' ' + r2(yt) + 'L' + r2(c + w) + ' ' + r2(yb - w) + 'Q' + r2(c) + ' ' + r2(yb + w * 1.2) + ' ' + r2(c - w) + ' ' + r2(yb - w) + 'Z';
}
function lensPath(year, top, bot, hw, yf){
  const c = xYear(year), w = hw * 33.04 * 2, yt = yf(top), yb = yf(bot), m = yt + (yb - yt) * 0.68;
  return 'M' + r2(c) + ' ' + r2(yt) + 'Q' + r2(c + w) + ' ' + r2(m) + ' ' + r2(c) + ' ' + r2(yb) + 'Q' + r2(c - w) + ' ' + r2(m) + ' ' + r2(c) + ' ' + r2(yt) + 'Z';
}
function streakPath(year, top, bot, hw, yf){
  const c = xYear(year), w = hw * 33.04 * 2, yt = yf(top), yb = yf(bot), m = (yt + yb) / 2;
  return 'M' + r2(c) + ' ' + r2(yt) + 'Q' + r2(c + w) + ' ' + r2(m) + ' ' + r2(c) + ' ' + r2(yb) + 'Q' + r2(c - w) + ' ' + r2(m) + ' ' + r2(c) + ' ' + r2(yt) + 'Z';
}
function drawOval(g, spot, color, yf, name){
  const cx = r2(xYear(spot[1])), cy = r2(yf(spot[2]));
  const attrs = {cx: cx, cy: cy, rx: r2(spot[3] * 33.04), ry: r2(spot[4] * 83), fill: color};
  if (spot[5]) attrs.transform = 'rotate(' + spot[5] + ' ' + cx + ' ' + cy + ')';
  mk('ellipse', name, g, attrs);
}
function drawBand(g, amps, t0, center, levels, colPos, colNeg, sigT, sigY, yf){
  amps.forEach((a, i) => {
    const t = t0 + i * 0.5;
    levels.forEach((c, j) => {
      if (Math.abs(a) <= c) return;
      const r = Math.sqrt(Math.log(Math.abs(a) / c));
      mk('ellipse', a > 0 ? 'annual-warm-contour' : 'annual-cool-contour', g, {
        cx: r2(xYear(t)), cy: r2(yf(center)), rx: r2(Math.sqrt(r) * sigT * 33.04), ry: r2(r * sigY * 83), fill: (a > 0 ? colPos : colNeg)[j]
      });
    });
  });
}
function drawAxes(parent, yf, top, bottom, powerTicks, powerMax, sideTopLine, tickPeriods){
  const axisGray = '#8c8c8c';
  mk('rect', 'plot-frame', parent, {x: X_LEFT, y: top, width: X_RIGHT - X_LEFT, height: bottom - top, fill: 'none', stroke: '#bdbdbd', 'stroke-width': 1});
  mk('line', 'x-axis-line', parent, {x1: X_LEFT, x2: X_RIGHT, y1: bottom, y2: bottom, stroke: axisGray, 'stroke-width': 2});
  mk('line', 'y-axis-line', parent, {x1: X_LEFT, x2: X_LEFT, y1: top, y2: bottom, stroke: axisGray, 'stroke-width': 1});
  yearTicks.forEach(y => {
    const x = xYear(y);
    mk('line', 'x-tick-bottom', parent, {x1: x, x2: x, y1: bottom, y2: bottom - 12, stroke: '#333', 'stroke-width': 1});
    mk('line', 'x-tick-top', parent, {x1: x, x2: x, y1: top, y2: top + 12, stroke: '#333', 'stroke-width': 1});
    const t = mk('text', 'x-tick-label', parent, {transform: 'translate(' + r2(x) + ',' + (bottom + 37) + ') scale(1,1.1)', 'font-size': 29, 'text-anchor': 'middle'});
    t.textContent = String(y);
  });
  periodTicks.forEach(p => {
    const o = Math.log2(p), y = yf(o);
    if (tickPeriods.indexOf(p) >= 0){
      mk('line', 'y-tick-left', parent, {x1: X_LEFT, x2: X_LEFT + 12, y1: y, y2: y, stroke: '#555', 'stroke-width': 1});
      mk('line', 'y-tick-right', parent, {x1: X_RIGHT, x2: X_RIGHT - 12, y1: y, y2: y, stroke: '#777', 'stroke-width': 1});
      mk('line', 'side-tick-left', parent, {x1: SIDE_LEFT, x2: SIDE_LEFT + 7, y1: y, y2: y, stroke: '#999', 'stroke-width': 1});
      mk('line', 'side-tick-right', parent, {x1: SIDE_RIGHT, x2: SIDE_RIGHT - 7, y1: y, y2: y, stroke: '#999', 'stroke-width': 1});
    }
    const t = mk('text', 'y-tick-label', parent, {transform: 'translate(104,' + r2(y + 10.5) + ') scale(1,1.08)', 'font-size': 29.5, 'text-anchor': 'end'});
    t.textContent = String(p);
    const s = mk('text', 'side-y-tick-label', parent, {transform: 'translate(1716,' + r2(y + 10.5) + ') scale(1,1.08)', 'font-size': 29.5, 'text-anchor': 'middle'});
    s.textContent = String(p);
  });
  mk('line', 'side-left-axis', parent, {x1: SIDE_LEFT, x2: SIDE_LEFT, y1: top, y2: bottom, stroke: '#9a9a9a', 'stroke-width': 1.2});
  mk('line', 'side-right-axis', parent, {x1: SIDE_RIGHT, x2: SIDE_RIGHT, y1: top, y2: bottom, stroke: '#9a9a9a', 'stroke-width': 1.2});
  mk('line', 'side-bottom-axis', parent, {x1: SIDE_LEFT, x2: SIDE_RIGHT, y1: bottom, y2: bottom, stroke: sideTopLine ? '#9a9a9a' : '#cfcfcf', 'stroke-width': 1.2});
  if (sideTopLine) mk('line', 'side-top-axis', parent, {x1: SIDE_LEFT, x2: SIDE_RIGHT, y1: top, y2: top, stroke: '#bdbdbd', 'stroke-width': 1});
  powerTicks.forEach(v => {
    const x = SIDE_LEFT + v / powerMax * (SIDE_RIGHT - SIDE_LEFT);
    const t = mk('text', 'power-tick-label', parent, {transform: 'translate(' + r2(x) + ',' + (bottom + 37) + ') scale(1,1.1)', 'font-size': 29, 'text-anchor': 'middle'});
    t.textContent = String(v);
  });
}
function drawSpectrum(parent, octs, pows, powerMax, yf, clip){
  const pts = octs.map((o, i) => [SIDE_LEFT + pows[i] / powerMax * (SIDE_RIGHT - SIDE_LEFT), yf(o)]);
  mk('path', 'global-power-curve', parent, {d: openPath(pts), fill: 'none', stroke: '#111', 'stroke-width': 2.4, 'stroke-linejoin': 'round', 'clip-path': clip});
}
function drawColorbar(parent, top, bottom, ticks, zeroX, perUnit){
  const left = 296.4, w = (1115.4 - left) / colorSteps.length;
  colorSteps.forEach((c, i) => {
    mk('rect', 'colorbar-step', parent, {x: r2(left + i * w), y: top, width: r2(w + 0.4), height: bottom - top, fill: c});
  });
  mk('rect', 'colorbar-frame', parent, {x: left, y: top, width: r2(w * colorSteps.length), height: bottom - top, fill: 'none', stroke: '#8c8c8c', 'stroke-width': 1.2});
  ticks.forEach(v => {
    const x = zeroX + v * perUnit;
    mk('line', 'colorbar-tick', parent, {x1: r2(x), x2: r2(x), y1: bottom, y2: bottom - 9, stroke: '#444', 'stroke-width': 1});
    const t = mk('text', 'colorbar-tick-label', parent, {x: r2(x), y: bottom + 34, 'font-size': 26.5, 'text-anchor': 'middle'});
    t.textContent = String(v);
  });
}

/* ---------- draw panel d ---------- */
(function(){
  const root = document.getElementById('panelD');
  const g = mk('g', 'wavelet-contours-d', root, {'clip-path': 'url(#clipD)'});
  const pink = '#fddfdf', blue = '#76b9d6', red = '#f03a2b', dark = '#7a0a10', mid = '#08519c', navy = '#04295c';
  mk('rect', 'contour-base-cool', g, {x: X_LEFT, y: 25.5, width: X_RIGHT - X_LEFT, height: 519.1, fill: blue});
  pinkRegionsD.forEach(r => {
    mk('path', 'warm-region', g, {d: closedPath(r, yOctD), fill: pink});
  });
  rootTopD.forEach((tip, i) => {
    const warm = 1982.47 + i, cool = warm + 0.5, fork = forkTopD[i];
    mk('path', 'warm-finger-annual', g, {d: closedPath(stemFinger(warm, 0.065, 0.115, 0.23, fork, 0.47), yOctD), fill: pink});
    mk('path', 'warm-finger-semiannual', g, {d: closedPath(tippedFinger(cool, 0.065, 0.11, fork, tip), yOctD), fill: pink});
    mk('path', 'warm-finger-seasonal', g, {d: closedPath(thinFinger(warm + 0.25, 0.06, fork), yOctD), fill: pink});
    mk('path', 'warm-finger-seasonal', g, {d: closedPath(thinFinger(warm - 0.25, 0.06, forkTopD[(i + 13) % forkTopD.length]), yOctD), fill: pink});
  });
  blueTipD.forEach((tip, i) => {
    mk('path', 'cool-stem-tip', g, {d: stubPath(1981.97 + i, 0.15, 0, tip, yOctD), fill: blue});
  });
  blueFingersD.forEach(r => {
    mk('path', 'cool-finger', g, {d: closedPath(r, yOctD), fill: blue});
  });
  semiYearsD.forEach((t, i) => {
    const h = semiHeightsD[i];
    mk('path', h > 0 ? 'semiannual-warm-streak' : 'semiannual-cool-streak', g, {d: streakPath(t, -1.05 - Math.abs(h), -1.05 + Math.abs(h), 0.055, yOctD), fill: h > 0 ? red : mid});
  });
  tailsD.forEach(t => {
    mk('path', t[4] > 0 ? 'warm-tail' : 'cool-tail', g, {d: lensPath(t[0], t[1], t[2], t[3], yOctD), fill: t[4] > 0 ? red : mid});
  });
  redShapesD.forEach(r => {
    mk('path', 'warm-tail-bent', g, {d: closedPath(r, yOctD), fill: red});
  });
  blueDropD.forEach(r => {
    mk('path', 'cool-drop', g, {d: closedPath(r, yOctD), fill: mid});
  });
  ovalsD.forEach(s => {
    drawOval(g, s, s[0] > 0 ? red : mid, yOctD, s[0] > 0 ? 'warm-spot' : 'cool-spot');
  });
  drawBand(g, annualD, 1981.97, -0.06, [1, 2], [red, dark], [mid, navy], 0.2, 0.375, yOctD);
  drawAxes(root, yOctD, 25.5, 544.6, powerTicksD, 6, true, visibleTicksD);
  drawSpectrum(root, spectrumOctD, spectrumPowerD, 6, yOctD, 'url(#clipSideD)');
  drawColorbar(root, 629.3, 657.7, colorTicksD, 742, 159);
})();

/* ---------- draw panel e ---------- */
(function(){
  const root = document.getElementById('panelE');
  const g = mk('g', 'wavelet-contours-e', root, {'clip-path': 'url(#clipE)'});
  const pink = '#fddcdc', cyan = '#d6f2fc', salmon = '#fc9272', blue = '#74b9d6';
  const red = '#ef3b2c', dark = '#7d0a10', mid = '#2171b5', navy = '#08306b';
  mk('rect', 'contour-base-cool', g, {x: X_LEFT, y: 811, width: X_RIGHT - X_LEFT, height: 518.7, fill: cyan});
  mk('rect', 'contour-base-warm', g, {x: X_LEFT, y: 811, width: X_RIGHT - X_LEFT, height: yOctE(0.45) - 811, fill: pink});
  rootTopE.forEach((tip, i) => {
    const cool = 1981.78 + i, warm = cool + 0.5, fork = forkTopE[i];
    mk('path', 'cool-finger-annual', g, {d: closedPath(stemFinger(cool, 0.055, 0.09, 0.23, fork, 0.6), yOctE), fill: cyan});
    mk('path', 'cool-finger-semiannual', g, {d: closedPath(tippedFinger(warm, 0.055, 0.08, fork, tip), yOctE), fill: cyan});
    mk('path', 'cool-finger-seasonal', g, {d: closedPath(thinFinger(cool + 0.25, 0.055, fork), yOctE), fill: cyan});
    mk('path', 'cool-finger-seasonal', g, {d: closedPath(thinFinger(cool - 0.25, 0.055, forkTopE[(i + 11) % forkTopE.length]), yOctE), fill: cyan});
  });
  mk('rect', 'seasonal-haze', g, {x: X_LEFT, y: 811, width: X_RIGHT - X_LEFT, height: 80, fill: 'url(#hazeFade)'});
  pinkPatchesE.forEach(r => {
    mk('path', 'warm-patch', g, {d: closedPath(r, yOctE), fill: pink});
  });
  salmonE.forEach(r => {
    mk('path', 'warm-halo', g, {d: closedPath(r, yOctE), fill: pink, stroke: pink, 'stroke-width': 16, 'stroke-linejoin': 'round'});
  });
  blueE.forEach(r => {
    mk('path', 'cool-halo', g, {d: closedPath(r, yOctE), fill: cyan, stroke: cyan, 'stroke-width': 12, 'stroke-linejoin': 'round'});
  });
  burstStartE.forEach((start, w) => {
    for (let t = start, k = 0; t <= burstEndE[w]; t += 0.25, k++){
      const h = burstHeightE[w];
      mk('path', k % 2 ? 'seasonal-cool-streak' : 'seasonal-warm-streak', g, {d: streakPath(t, -1 - h, -1 + h, 0.06, yOctE), fill: k % 2 ? blue : salmon, opacity: 0.85});
    }
  });
  tailsE.filter(t => Math.abs(t[4]) === 1).forEach(t => {
    mk('path', t[4] > 0 ? 'warm-tail' : 'cool-tail', g, {d: lensPath(t[0], t[1], t[2], t[3], yOctE), fill: t[4] > 0 ? salmon : blue});
  });
  blueE.forEach(r => {
    mk('path', 'cool-contour-low', g, {d: closedPath(r, yOctE), fill: blue});
  });
  salmonE.forEach(r => {
    mk('path', 'warm-contour-low', g, {d: closedPath(r, yOctE), fill: salmon});
  });
  ovalsE.filter(s => Math.abs(s[0]) === 1).forEach(s => {
    drawOval(g, s, s[0] > 0 ? salmon : blue, yOctE, 'contour-spot-low');
  });
  midE.forEach(r => {
    mk('path', 'cool-contour-mid', g, {d: closedPath(r, yOctE), fill: mid});
  });
  redE.forEach(r => {
    mk('path', 'warm-contour-mid', g, {d: closedPath(r, yOctE), fill: red});
  });
  ovalsE.filter(s => Math.abs(s[0]) === 2).forEach(s => {
    drawOval(g, s, s[0] > 0 ? red : mid, yOctE, 'contour-spot-mid');
  });
  navyE.forEach(r => {
    mk('path', 'cool-contour-high', g, {d: closedPath(r, yOctE), fill: navy});
  });
  darkE.forEach(r => {
    mk('path', 'warm-contour-high', g, {d: closedPath(r, yOctE), fill: dark});
  });
  ovalsE.filter(s => Math.abs(s[0]) === 3).forEach(s => {
    drawOval(g, s, s[0] > 0 ? dark : navy, yOctE, 'contour-spot-high');
  });
  tailsE.filter(t => Math.abs(t[4]) === 2).forEach(t => {
    mk('path', 'warm-tail-inner', g, {d: lensPath(t[0], t[1], t[2], t[3], yOctE), fill: red});
  });
  drawBand(g, annualE, 1981.78, -0.05, [0.2, 0.4, 0.6], [salmon, red, dark], [blue, mid, navy], 0.21, 0.35, yOctE);
  drawAxes(root, yOctE, 811, 1329.7, powerTicksE, 1, false, periodTicks);
  drawSpectrum(root, spectrumOctE, spectrumPowerE, 1, yOctE, 'url(#clipSideE)');
  drawColorbar(root, 1415, 1443.6, colorTicksE, 744.7, 476.5);
})();
</script>
</body>
</html>
